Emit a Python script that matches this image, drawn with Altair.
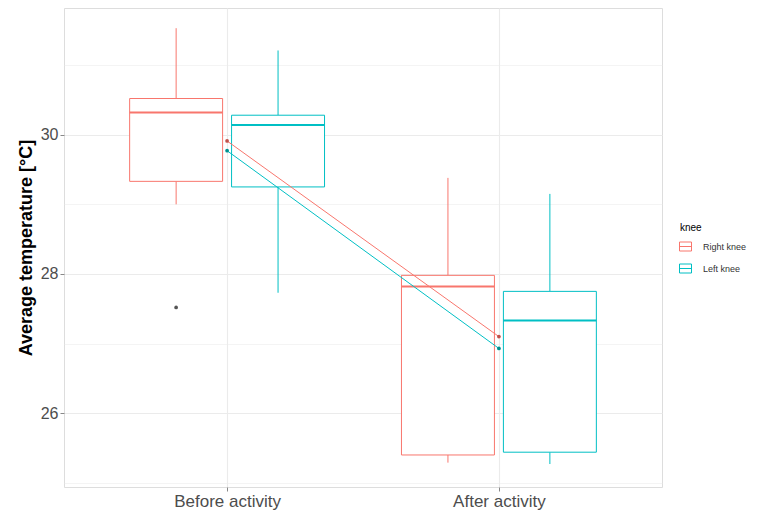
import altair as alt
import pandas as pd

# ---- data ----
categories = ["Before activity", "After activity"]
knee_levels = ["Right knee", "Left knee"]
knee_colors = ["#F8766D", "#00BFC4"]

groups = ["Before activity", "Before activity", "After activity", "After activity"]
knees = ["Right knee", "Left knee", "Right knee", "Left knee"]
whisker_low = [29.00, 27.73, 25.29, 25.27]
q1 = [29.33, 29.25, 25.40, 25.44]
median = [30.32, 30.14, 27.82, 27.33]
q3 = [30.52, 30.28, 27.98, 27.75]
whisker_high = [31.53, 31.21, 29.38, 29.15]
means = [29.91, 29.77, 27.10, 26.93]

outlier_group = ["Before activity"]
outlier_knee = ["Right knee"]
outlier_value = [27.52]

y_ticks = [25, 26, 27, 28, 29, 30, 31]

# ---- layout constants ----
dodge = {"Right knee": -0.1875, "Left knee": 0.1875}
half_w = 0.171
pos = {c: i + 1 for i, c in enumerate(categories)}

box = pd.DataFrame({
    "group": groups, "knee": knees,
    "wlo": whisker_low, "q1": q1, "med": median, "q3": q3, "whi": whisker_high,
})
box["xc"] = [pos[g] + dodge[k] for g, k in zip(groups, knees)]
box["xl"] = box["xc"] - half_w
box["xr"] = box["xc"] + half_w

mean_df = pd.DataFrame({"group": groups, "knee": knees, "mean": means})
mean_df["xm"] = [pos[g] for g in groups]

out_df = pd.DataFrame({"group": outlier_group, "knee": outlier_knee, "val": outlier_value})
out_df["xc"] = [pos[g] + dodge[k] for g, k in zip(outlier_group, outlier_knee)]

label_expr = " : ".join(
    [f"datum.value == {pos[c]} ? '{c}'" for c in categories[:-1]] + [f"'{categories[-1]}'"]
)

xs = alt.Scale(domain=[0.4, 2.6], nice=False, zero=False)
ys = alt.Scale(domain=[24.94, 31.82], nice=False, zero=False)
cs = alt.Scale(domain=knee_levels, range=knee_colors)

x_axis = alt.Axis(
    values=list(pos.values()), labelExpr=label_expr, title=None,
    grid=True, gridColor="#EBEBEB", gridWidth=1.1,
    labelFontSize=17, labelColor="#4D4D4D", labelFont="Liberation Sans",
    tickSize=4, tickColor="#888888", labelPadding=2, domain=False,
)
y_axis = alt.Axis(
    values=y_ticks, labelExpr="datum.value % 2 == 0 ? datum.label : ''",
    title="Average temperature [°C]", titleFontSize=18, titleFontWeight="bold",
    titleColor="#000000", titleFont="Liberation Sans", titlePadding=5,
    grid=True, gridColor="#EBEBEB",
    gridWidth={"condition": {"test": "datum.value % 2 == 0", "value": 1.1}, "value": 0.55},
    tickOpacity={"condition": {"test": "datum.value % 2 == 0", "value": 1}, "value": 0},
    labelFontSize=16, labelColor="#4D4D4D", labelFont="Liberation Sans",
    tickSize=4, tickColor="#888888", labelPadding=2, domain=False,
)


def X(f):
    return alt.X(f, type="quantitative", scale=xs, axis=x_axis, title=None)


def Y(f):
    return alt.Y(f, type="quantitative", scale=ys, axis=y_axis,
                 title="Average temperature [°C]")


col_nolegend = alt.Color("knee:N", scale=cs, legend=None)

whisk_lo = alt.Chart(box).mark_rule(strokeWidth=1).encode(
    x=X("xc"), y=Y("wlo"), y2="q1", color=col_nolegend)
whisk_hi = alt.Chart(box).mark_rule(strokeWidth=1).encode(
    x=X("xc"), y=Y("q3"), y2="whi", color=col_nolegend)

legend = alt.Legend(
    title="knee", orient="none", legendX=616, legendY=215,
    titleFontSize=10, titleFontWeight="normal", titleColor="#000000",
    titleFont="Liberation Sans", titlePadding=8,
    labelFontSize=9, labelFont="Liberation Sans", labelColor="#333333",
    labelOffset=12, rowPadding=9,
    symbolType="M-1.2,-0.9H1.2V0.9H-1.2Z M-1.2,0H1.2",
    symbolSize=100, symbolStrokeWidth=1, symbolFillColor="white",
)

boxes = alt.Chart(box).mark_bar(fill="white", strokeWidth=1).encode(
    x=X("xl"), x2="xr", y=Y("q1"), y2="q3",
    stroke=alt.Stroke("knee:N", scale=cs, legend=legend, sort=knee_levels),
)
medians = alt.Chart(box).mark_rule(strokeWidth=2).encode(
    x=X("xl"), x2="xr", y=Y("med"), color=col_nolegend)

outliers = alt.Chart(out_df).mark_point(filled=True, size=14, opacity=1, color="#555555").encode(
    x=X("xc"), y=Y("val"))

mean_line = alt.Chart(mean_df).mark_line(strokeWidth=1).encode(
    x=X("xm"), y=Y("mean"), color=col_nolegend, detail="knee:N")
mean_pts = alt.Chart(mean_df).mark_point(filled=True, size=14, opacity=1).encode(
    x=X("xm"), y=Y("mean"),
    color=alt.Color("knee:N", scale=alt.Scale(domain=knee_levels, range=["#C0504A", "#00908F"]),
                    legend=None))

chart = alt.layer(
    whisk_lo, whisk_hi, boxes, medians, outliers, mean_line, mean_pts
).resolve_scale(color="independent").properties(
    width=598, height=479,
    autosize=alt.AutoSizeParams(type="none"),
    padding={"left": 56, "top": 0, "right": 88, "bottom": 26},
).configure_view(
    stroke="#9A9A9A", strokeWidth=1.2
).configure(
    background="white"
)

chart.save("out.html", embed_options={"renderer": "svg", "actions": False})
